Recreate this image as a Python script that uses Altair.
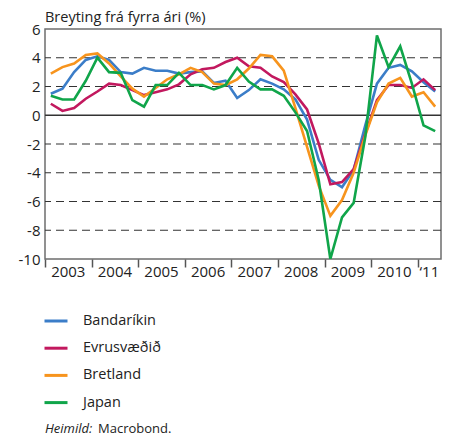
import altair as alt
import pandas as pd

FONT = "Open Sans"

series_names = ["Bandaríkin", "Evrusvæðið", "Bretland", "Japan"]
series_colors = ["#3b7dc8", "#c2185e", "#f7941d", "#10a54a"]

# Quarterly, 2003Q1 .. 2011Q2
quarters = [f"{y}Q{q}" for y in range(2003, 2012) for q in range(1, 5)][:34]

bandarikin = [1.5, 1.85, 3.0, 3.85, 4.1, 3.85, 3.0, 2.9, 3.3, 3.1, 3.1, 2.9, 3.0, 3.05,
              2.25, 2.4, 1.2, 1.75, 2.5, 2.2, 1.8, 1.1, -0.3, -3.1, -4.5, -5.0, -3.8,
              -0.7, 2.2, 3.3, 3.5, 3.05, 2.3, 1.65]
evrusvaedid = [0.8, 0.3, 0.5, 1.15, 1.65, 2.2, 2.1, 1.75, 1.4, 1.6, 1.8, 2.15, 2.85, 3.2,
               3.3, 3.7, 4.0, 3.4, 3.3, 2.7, 2.3, 1.45, 0.4, -1.95, -4.8, -4.65, -3.75,
               -1.3, 1.05, 2.1, 2.1, 1.9, 2.5, 1.75]
bretland = [2.9, 3.35, 3.6, 4.2, 4.3, 3.6, 2.7, 1.85, 1.3, 1.9, 2.5, 2.85, 3.3, 3.0,
            2.2, 2.1, 2.5, 3.25, 4.2, 4.1, 3.1, 0.5, -2.2, -4.9, -7.0, -5.9, -4.0,
            -1.4, 0.9, 2.2, 2.6, 1.3, 1.6, 0.6]
japan = [1.35, 1.1, 1.1, 2.4, 4.0, 3.0, 2.95, 1.05, 0.6, 2.1, 2.1, 2.95, 2.1, 2.1,
         1.8, 2.1, 3.3, 2.35, 1.8, 1.8, 1.35, 0.2, -1.1, -4.5, -10.0, -7.1, -6.1,
         -1.5, 5.55, 3.35, 4.8, 2.2, -0.7, -1.1]

year_ticks = [2003, 2004, 2005, 2006, 2007, 2008, 2009, 2010, 2011]
year_labels = ["2003", "2004", "2005", "2006", "2007", "2008", "2009", "2010", "\u201811"]
year_label_pos = [2003.5, 2004.5, 2005.5, 2006.5, 2007.5, 2008.5, 2009.5, 2010.5, 2011.25]
y_ticks = [-10, -8, -6, -4, -2, 0, 2, 4, 6]
dashed_levels = [4, 2, -2, -4, -6, -8]
zero_level = [0]

title_text = ["Breyting frá fyrra ári (%)"]
source_italic = ["Heimild:"]
source_plain = ["Macrobond."]

rows = []
for name, vals in zip(series_names, [bandarikin, evrusvaedid, bretland, japan]):
    for i, (q, v) in enumerate(zip(quarters, vals)):
        rows.append({"quarter": q, "t": 2003 + (i + 0.5) / 4, "series": name, "value": v})
df = pd.DataFrame(rows)

W, H = 396, 230
xscale = alt.Scale(domain=[2003, 2011.5], nice=False, zero=False)
yscale = alt.Scale(domain=[-10, 6], nice=False, zero=False)

yaxis = alt.Axis(values=y_ticks, title=None, domain=False, grid=False,
                 ticks=False, labelFontSize=15, labelFont=FONT,
                 labelColor="#222222", labelPadding=5, labelOverlap=False,
                 labelExpr="toString(datum.value)")
xaxis = alt.Axis(values=year_ticks, labels=False, title=None, domain=False,
                 grid=False, ticks=True, tickSize=8, tickColor="#555555",
                 tickWidth=1.5)

grid = alt.Chart(pd.DataFrame({"v": dashed_levels})).mark_rule(
    color="#333333", strokeWidth=1.1, strokeDash=[8, 5]
).encode(y=alt.Y("v:Q", scale=yscale, axis=yaxis))

zero = alt.Chart(pd.DataFrame({"v": zero_level})).mark_rule(
    color="#333333", strokeWidth=1.3
).encode(y=alt.Y("v:Q", scale=yscale, axis=yaxis))

lines = alt.Chart(df).mark_line(strokeWidth=2.6, strokeJoin="miter", clip=True).encode(
    x=alt.X("t:Q", scale=xscale, axis=xaxis),
    y=alt.Y("value:Q", scale=yscale, axis=yaxis),
    color=alt.Color("series:N",
                    scale=alt.Scale(domain=series_names, range=series_colors),
                    sort=series_names,
                    legend=alt.Legend(title=None, orient="none", legendX=-2, legendY=279,
                                      direction="vertical", symbolType="stroke",
                                      symbolSize=529, symbolStrokeWidth=3,
                                      labelFontSize=14.5, labelFont=FONT,
                                      labelColor="#222222", labelOffset=14,
                                      rowPadding=7.2, padding=0)),
    detail="series:N",
)

xlabels = alt.Chart(pd.DataFrame({"pos": year_label_pos, "lab": year_labels})).mark_text(
    fontSize=15, font=FONT, color="#222222", baseline="middle", align="center"
).encode(x=alt.X("pos:Q", scale=xscale, axis=xaxis), y=alt.value(H + 13), text="lab:N")

title = alt.Chart(pd.DataFrame({"s": title_text})).mark_text(
    fontSize=14.5, font=FONT, color="#222222", align="left", baseline="alphabetic"
).encode(x=alt.value(0), y=alt.value(-7), text="s:N")

src1 = alt.Chart(pd.DataFrame({"s": source_italic})).mark_text(
    fontSize=13, font=FONT, fontStyle="italic", color="#222222", align="left",
    baseline="alphabetic"
).encode(x=alt.value(0), y=alt.value(404), text="s:N")

src2 = alt.Chart(pd.DataFrame({"s": source_plain})).mark_text(
    fontSize=13, font=FONT, color="#222222", align="left", baseline="alphabetic"
).encode(x=alt.value(53), y=alt.value(404), text="s:N")

chart = alt.layer(grid, zero, lines, xlabels, title, src1, src2).properties(
    width=W, height=H,
    autosize=alt.AutoSizeParams(type="none"),
    padding={"left": 37, "top": 21, "right": 2, "bottom": 178},
).configure_view(stroke="#6e6e6e", strokeWidth=1.5).configure_axisY(labelOverlap=False)

chart.save("out.html", embed_options={"renderer": "svg", "actions": False})
